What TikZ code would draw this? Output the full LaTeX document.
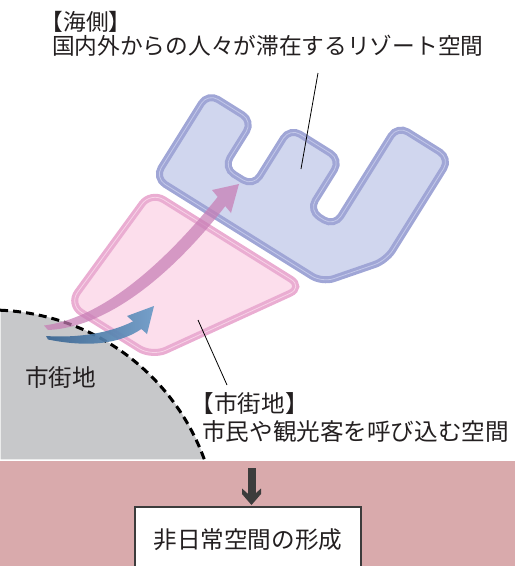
\documentclass[tikz,border=0pt]{standalone}
\usepackage{fontspec}
\setmainfont{Noto Sans CJK JP}
\usetikzlibrary{calc}
\definecolor{bandpink}{HTML}{D9AAAC}
\definecolor{cityfill}{HTML}{C7C8CA}
\definecolor{bluefill}{HTML}{D0D6EE}
\definecolor{blueband}{HTML}{A0A6D6}
\definecolor{blueline}{HTML}{C3C8E9}
\definecolor{pinkfill}{HTML}{FCDEEC}
\definecolor{pinkband}{HTML}{EAADD2}
\definecolor{pinkline}{HTML}{F7D2E7}
\definecolor{pinkarrow}{HTML}{C77DB5}
\definecolor{blueA}{HTML}{3A6591}
\definecolor{blueB}{HTML}{6A9AC6}
\definecolor{txt}{HTML}{231F20}
\definecolor{arrowgray}{HTML}{3C3C3C}
\tikzset{
  lbl/.style={inner sep=0pt, text=txt, font=\fontsize{23.6pt}{26pt}\selectfont},
  lblsm/.style={inner sep=0pt, text=txt, font=\fontsize{22.7pt}{26pt}\selectfont},
  resbox/.style={draw=arrowgray, line width=2pt, fill=white, inner sep=0pt,
     minimum width=226pt, minimum height=66pt, text=txt, font=\fontsize{23.6pt}{26pt}\selectfont},
  blueshape/.style={fill=bluefill, draw=blueband, line width=7pt, rounded corners=12pt,
     postaction={draw=blueline, line width=0.8pt}},
  pinkshape/.style={fill=pinkfill, draw=pinkband, line width=7pt, rounded corners=15pt,
     postaction={draw=pinkline, line width=0.8pt}},
  leader/.style={draw=black, line width=0.8pt},
  citydash/.style={draw=black, line width=3pt, dash pattern=on 8pt off 5pt}
}
\begin{document}
\begin{tikzpicture}[x=1pt,y=-1pt]
\useasboundingbox (0,0) rectangle (515,566);
% bottom band
\fill[bandpink] (0,461) rectangle (515,566);
% city area
\fill[cityfill] (0.5,310.2) arc[start angle=-87.7, end angle=-20, radius=227] -- (0.5,459.4) -- cycle;
\draw[citydash] (0.1,310.2) arc[start angle=-87.7, end angle=-20, radius=227];
% shapes in rotated frame
\begin{scope}[shift={(150,179)}, x={(0.848pt,-0.530pt)}, y={(0.530pt,0.848pt)}]
  \path[pinkshape] (100,-10.3) -- (187.5,-10.3) -- (95.8,-149.5) -- (-2.5,-149.5) -- (7.5,-10.3) -- cycle;
  \path[blueshape] (100,3.5) -- (3.5,3.5) -- (3.5,103.5) -- (56.5,103.5) -- (56.5,48.5) -- (91.5,48.5)
     -- (91.5,117.5) -- (151.5,117.5) -- (151.5,57.5) -- (181.5,57.5) -- (181.5,176.5)
     -- (243.5,176.5) -- (243.5,56) -- (201,3.5) -- cycle;
\end{scope}
% arrows
\shade[left color=blueA, right color=blueB, opacity=0.92]
  (46,336) .. controls (75,338) and (108,334) .. (133,321.4) -- (127,316) -- (154,306) -- (147,334)
  -- (141.4,329) .. controls (118,345) and (85,347) .. (48,339.5) -- cycle;
\fill[pinkarrow, opacity=0.72]
  (44,325.5) .. controls (110,317) and (175,250) .. (217.7,196.9) -- (212,190) -- (239,184) -- (231,213)
  -- (225.3,206.1) .. controls (182,262) and (115,327) .. (48,330) -- cycle;
% labels
\node[lblsm, anchor=west] (seaT) at (40.5,21.5) {【海側】};
\node[lblsm, anchor=west] (seaD) at (52,45.5) {国内外からの人々が滞在するリゾート空間};
\node[lbl, anchor=west] (cityT) at (190.5,404) {【市街地】};
\node[lbl, anchor=west] (cityD) at (202,432) {市民や観光客を呼び込む空間};
\node[lbl] (cityL) at (60.5,378) {市街地};
% leader lines
\coordinate (seaTop) at (318,73);
\coordinate (seaEnd) at (301,169);
\coordinate (cityStart) at (198,320);
\coordinate (cityEnd) at (227,385);
\draw[leader] (seaTop) -- (seaEnd);
\draw[leader] (cityStart) -- (cityEnd);
% result box and arrow
\node[resbox] (res) at (248,540) {非日常空間の形成};
\coordinate (dtop) at (251.5,468);
\draw[line width=8pt, arrowgray] (dtop) -- ($(res.north)+(3.5,-8)$);
\fill[arrowgray] ($(res.north)+(3.5,-1)$) -- ++(-9.5,-11) -- ++(0,-5.5) -- ++(9.5,8.5) -- ++(9.5,-8.5) -- ++(0,5.5) -- cycle;
\end{tikzpicture}
\end{document}
